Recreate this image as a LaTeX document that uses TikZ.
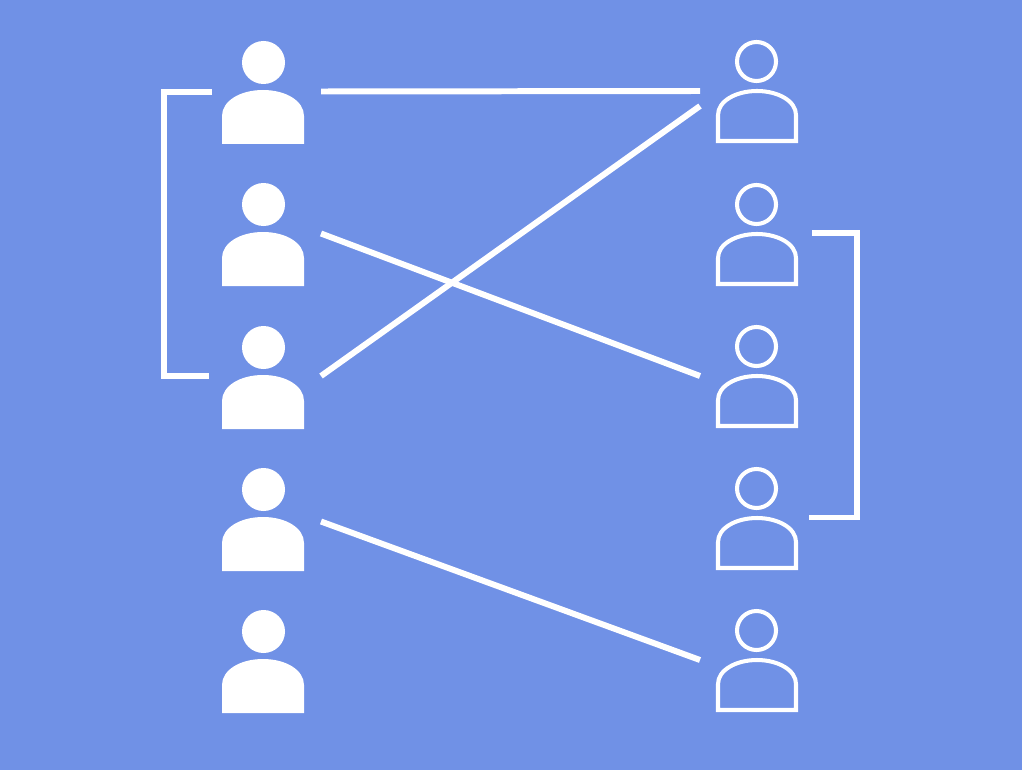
\documentclass[tikz,border=0pt]{standalone}
\usepackage{xcolor}
\usepackage{tikz}
\definecolor{fond}{RGB}{112,145,230}
\tikzset{
	lien/.style={white,line width=1.7pt},
	crochet/.style={white,line width=1.7pt,miter limit=10},
	plein/.style={fill=white,draw=none},
	creux/.style={draw=white,line width=1.15pt,fill=none}
}

\begin{document}
\begin{tikzpicture}[x=0.01cm,y=-0.01cm]
\fill[fond] (0,0) rectangle (1022,770);
\useasboundingbox (0,0) rectangle (1022,770);

%Personnes de gauche
\foreach \i/\dy in {1/0,2/142,3/285,4/427,5/569} {
	\fill[plein] (263.5,62.5+\dy) circle (21.5);
	\fill[plein] (222,144+\dy) -- (222,116+\dy) .. controls (222,101+\dy) and (240,90+\dy) .. (263,90+\dy) .. controls (286,90+\dy) and (304,101+\dy) .. (304,116+\dy) -- (304,144+\dy) -- cycle;
}

%Personnes de droite
\foreach \i/\dy in {1/0,2/143,3/285,4/427,5/569} {
	\draw[creux] (756.5,61.5+\dy) circle (19.5);
	\draw[creux] (718,141+\dy) -- (718,115+\dy) .. controls (718,101+\dy) and (736,91+\dy) .. (757,91+\dy) .. controls (778,91+\dy) and (796,101+\dy) .. (796,115+\dy) -- (796,141+\dy) -- cycle;
}

%Extremites des liens
\coordinate (G1) at (321,91.5);
\coordinate (G2) at (321,233.5);
\coordinate (G3) at (321,376);
\coordinate (G4) at (321,521.5);
\coordinate (D1) at (700,91);
\coordinate (D1b) at (700,106);
\coordinate (D3) at (700,376);
\coordinate (D5) at (700,660);

%Liens
\draw[lien] (G1) -- (D1);
\draw[lien] (G2) -- (D3);
\draw[lien] (G3) -- (D1b);
\draw[lien] (G4) -- (D5);

%Crochets
\draw[crochet] (212,92) -- (163.8,92) -- (163.8,376) -- (209,376);
\draw[crochet] (812,233) -- (857,233) -- (857,517.5) -- (809,517.5);
\end{tikzpicture}
\end{document}
